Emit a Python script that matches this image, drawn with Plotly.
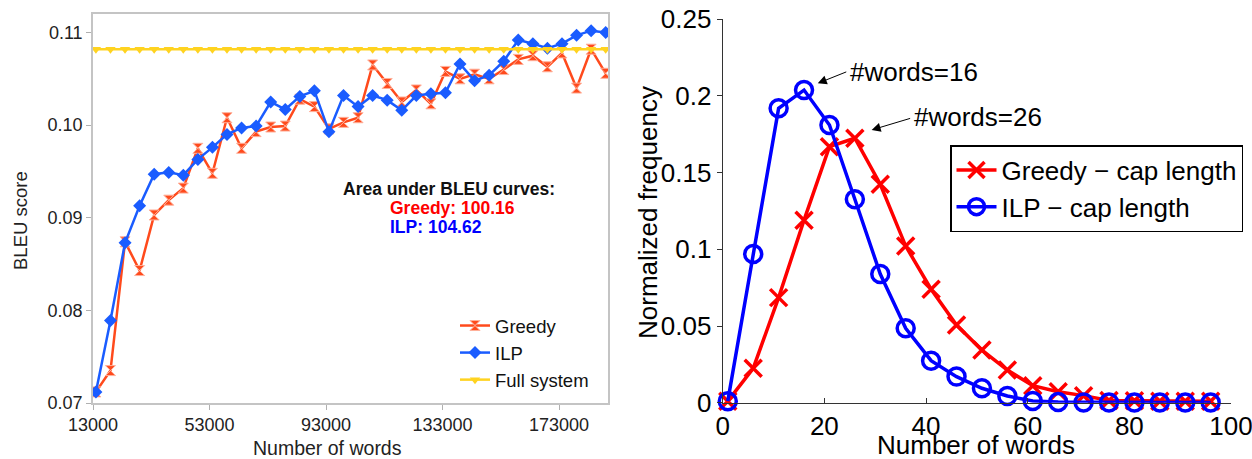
import plotly.graph_objects as go

# ---------------- Left chart data ----------------
words = [14000 + 5000 * i for i in range(36)]
greedy_bleu = [0.0712, 0.0735, 0.0874, 0.0843, 0.0903, 0.0919, 0.0932, 0.0975, 0.0948, 0.1008,
               0.0975, 0.0993, 0.0998, 0.0999, 0.1028, 0.1020, 0.0996, 0.1003, 0.1008, 0.1065,
               0.1045, 0.1025, 0.1038, 0.1023, 0.1058, 0.1050, 0.1055, 0.1050, 0.1060, 0.1071,
               0.1075, 0.1063, 0.1078, 0.1040, 0.1082, 0.1056]
ilp_bleu = [0.0712, 0.0789, 0.0873, 0.0913, 0.0947, 0.0949, 0.0946, 0.0963, 0.0976, 0.0990,
            0.0997, 0.0999, 0.1025, 0.1017, 0.1031, 0.1037, 0.0993, 0.1032, 0.1020, 0.1032,
            0.1027, 0.1016, 0.1032, 0.1034, 0.1035, 0.1066, 0.1048, 0.1054, 0.1069, 0.1092,
            0.1088, 0.1083, 0.1088, 0.1097, 0.1102, 0.1100]
full_bleu = [0.1082] * 36
left_xticks = [13000, 53000, 93000, 133000, 173000]
left_yticks = [0.07, 0.08, 0.09, 0.10, 0.11]

# ---------------- Right chart data ----------------
cap_len = [1, 6, 11, 16, 21, 26, 31, 36, 41, 46, 51, 56, 61, 66, 71, 76, 81, 86, 91, 96]
greedy_freq = [0.001, 0.0224, 0.0685, 0.119, 0.1669, 0.1724, 0.1424, 0.1021, 0.0740, 0.0506,
               0.0343, 0.0213, 0.0111, 0.0072, 0.0046, 0.0015, 0.0012, 0.0010, 0.0010, 0.0010]
ilp_freq = [0.001, 0.0969, 0.1919, 0.2038, 0.1810, 0.1326, 0.0839, 0.0485, 0.0274, 0.0170,
            0.0094, 0.0044, 0.0011, 0.0004, 0.0002, 0.0001, 0.0001, 0.0001, 0.0001, 0.0001]
right_xticks = [0, 20, 40, 60, 80, 100]
right_yticks = [0, 0.05, 0.1, 0.15, 0.2, 0.25]
right_ytext = ["0", "0.05", "0.1", "0.15", "0.2", "0.25"]

W, H = 1252, 459
FONT = "Liberation Sans, Arial, sans-serif"

def px(x):
    return x / W

def py(y):
    return (H - y) / H

fig = go.Figure()

# left traces
fig.add_trace(go.Scatter(x=words, y=greedy_bleu, name="Greedy", mode="lines+markers",
                         line=dict(color="#ff4a1c", width=2.5),
                         marker=dict(symbol="hourglass", size=10, color="#ff4a1c",
                                     line=dict(color="#ffb09a", width=1)),
                         xaxis="x", yaxis="y", legend="legend"))
fig.add_trace(go.Scatter(x=words, y=ilp_bleu, name="ILP", mode="lines+markers",
                         line=dict(color="#1a5cff", width=2.5),
                         marker=dict(symbol="diamond", size=10, color="#1a5cff"),
                         xaxis="x", yaxis="y", legend="legend"))
fig.add_trace(go.Scatter(x=words, y=full_bleu, name="Full system", mode="lines+markers",
                         line=dict(color="#ffd320", width=2.5),
                         marker=dict(symbol="triangle-down", size=9, color="#ffd320"),
                         xaxis="x", yaxis="y", legend="legend"))

# right traces
fig.add_trace(go.Scatter(x=cap_len, y=greedy_freq, name="Greedy \u2212 cap length",
                         mode="lines+markers", cliponaxis=False,
                         line=dict(color="#ff0000", width=3.5),
                         marker=dict(symbol="x-thin", size=17, color="#ff0000",
                                     line=dict(color="#ff0000", width=3.5)),
                         xaxis="x2", yaxis="y2", legend="legend2"))
fig.add_trace(go.Scatter(x=cap_len, y=ilp_freq, name="ILP \u2212 cap length",
                         mode="lines+markers", cliponaxis=False,
                         line=dict(color="#0000ff", width=3.5),
                         marker=dict(symbol="circle-open", size=17, color="#0000ff",
                                     line=dict(color="#0000ff", width=3.5)),
                         xaxis="x2", yaxis="y2", legend="legend2"))

def note(text, x, y, size, color, xanchor="center", angle=0):
    return dict(text=text, x=px(x), y=py(y), xref="paper", yref="paper",
                xanchor=xanchor, yanchor="middle", textangle=angle,
                showarrow=False, font=dict(size=size, color=color))

annotations = [
    # left axis titles
    note("Number of words", 327, 448, 19.5, "#222"),
    note("BLEU score", 20, 221, 18.5, "#222", angle=-90),
    # area text
    note("<b>Area under BLEU curves:</b>", 449, 189, 17.5, "#111"),
    note("<b>Greedy: 100.16</b>", 388, 208, 17.5, "#ff0000", xanchor="left"),
    note("<b>ILP: 104.62</b>", 388, 227, 17.5, "#0000ff", xanchor="left"),
    # right axis titles
    note("Number of words", 976, 445, 26, "#000"),
    note("Normalized frequency", 648, 212, 26, "#000", angle=-90),
    # arrow labels
    note("#words=16", 848, 72, 26, "#000", xanchor="left"),
    note("#words=26", 912, 117, 26, "#000", xanchor="left"),
    # arrows
    dict(text="", x=18.7, y=0.2082, xref="x2", yref="y2", showarrow=True, ax=30, ay=-12,
         arrowhead=2, arrowsize=1.8, arrowwidth=1, arrowcolor="#000"),
    dict(text="", x=29.3, y=0.1778, xref="x2", yref="y2", showarrow=True, ax=40, ay=-12,
         arrowhead=2, arrowsize=1.8, arrowwidth=1, arrowcolor="#000"),
]

fig.update_layout(
    template="none",
    width=W, height=H,
    margin=dict(l=0, r=0, t=0, b=0, pad=0),
    paper_bgcolor="white", plot_bgcolor="white",
    font=dict(family=FONT, size=18, color="#222"),
    xaxis=dict(domain=[px(93), px(608)], range=[13000, 189800], tickvals=left_xticks,
               ticktext=[str(v) for v in left_xticks], automargin=False,
               showline=True, linecolor="#c4c4c4", linewidth=1.5, mirror=True,
               ticks="outside", ticklen=5, tickcolor="#b0b0b0", showgrid=False, zeroline=False,
               tickfont=dict(size=18, color="#222")),
    yaxis=dict(domain=[py(403), py(14)], range=[0.07, 0.112], tickvals=left_yticks,
               ticktext=["0.07", "0.08", "0.09", "0.10", "0.11"], automargin=False,
               showline=True, linecolor="#c4c4c4", linewidth=1.5, mirror=True,
               ticks="outside", ticklen=5, tickcolor="#b0b0b0", showgrid=False, zeroline=False,
               tickfont=dict(size=18, color="#222")),
    xaxis2=dict(domain=[px(722.7), px(1231)], range=[0, 100], tickvals=right_xticks,
                showline=True, linecolor="#333", linewidth=1.2, mirror=False, anchor="y2",
                automargin=False, ticklabeloverflow="allow",
                ticks="inside", ticklen=5, tickcolor="#333", showgrid=False, zeroline=False,
                tickfont=dict(size=26, color="#000")),
    yaxis2=dict(domain=[py(402.7), py(19.2)], range=[0, 0.25], tickvals=right_yticks,
                ticktext=right_ytext, anchor="x2", automargin=False,
                showline=True, linecolor="#333", linewidth=1.2, mirror=False,
                ticks="outside", ticklen=5, tickcolor="#333", showgrid=False, zeroline=False,
                tickfont=dict(size=26, color="#000")),
    legend=dict(x=px(455), y=py(307), xanchor="left", yanchor="top",
                bgcolor="rgba(255,255,255,0)", font=dict(size=18.5, color="#111"),
                tracegroupgap=0, itemwidth=30),
    legend2=dict(x=px(950), y=py(145), xanchor="left", yanchor="top",
                 bgcolor="white", bordercolor="#000", borderwidth=1.5,
                 font=dict(size=26, color="#000"), itemwidth=40),
    annotations=annotations,
    showlegend=True,
)

fig.write_html("out.html")
